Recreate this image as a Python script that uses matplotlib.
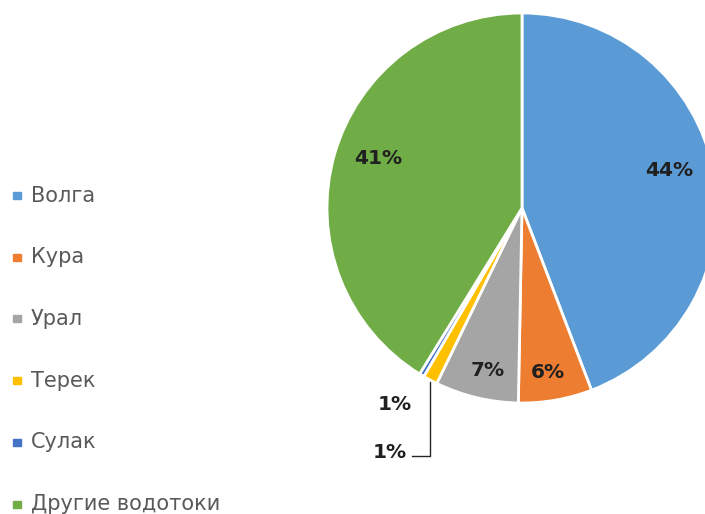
import matplotlib.pyplot as plt
from matplotlib.patches import Rectangle

rivers = ['Волга', 'Кура', 'Урал', 'Терек', 'Сулак', 'Другие водотоки']
shares = [44.2, 6.1, 6.9, 1.2, 0.4, 41.2]
pct_labels = ['44%', '6%', '7%', '1%', '1%', '41%']
colors = ['#5B9BD5', '#ED7D31', '#A5A5A5', '#FFC000', '#4472C4', '#70AD47']

W, H = 705, 514
fig = plt.figure(figsize=(W / 100, H / 100), dpi=100)
ax = fig.add_axes([0, 0, 1, 1])

# pie centre / radius in pixel units (y measured from bottom)
cx, cy, r = 522, H - 208, 195
ax.pie(shares, colors=colors, startangle=90, counterclock=False,
       center=(cx, cy), radius=r, frame=True,
       wedgeprops=dict(edgecolor='white', linewidth=2))
ax.set_xlim(0, W)
ax.set_ylim(0, H)
ax.set_aspect('equal')
ax.axis('off')

# data label positions (pixels from top-left), excel "best fit" style
label_pos = [(669, 170), (548, 373), (488, 371), (390, 452), (395, 404), (378, 158)]
for txt, (x, y) in zip(pct_labels, label_pos):
    ax.text(x, H - y, txt, ha='center', va='center', fontsize=14.5,
            fontweight='bold', color='#202020')

# leader line for the small slice
ax.plot([430, 430, 412], [H - 382, H - 456, H - 456], color='#262626', lw=1)

# legend on the left
for i, (name, c) in enumerate(zip(rivers, colors)):
    y = H - (195.5 + i * 61.7)
    ax.add_patch(Rectangle((13, y - 3.5), 8, 7, color=c))
    ax.text(31, y, name, ha='left', va='center', fontsize=15, color='#595959')

fig.savefig('out.png', dpi=100)
